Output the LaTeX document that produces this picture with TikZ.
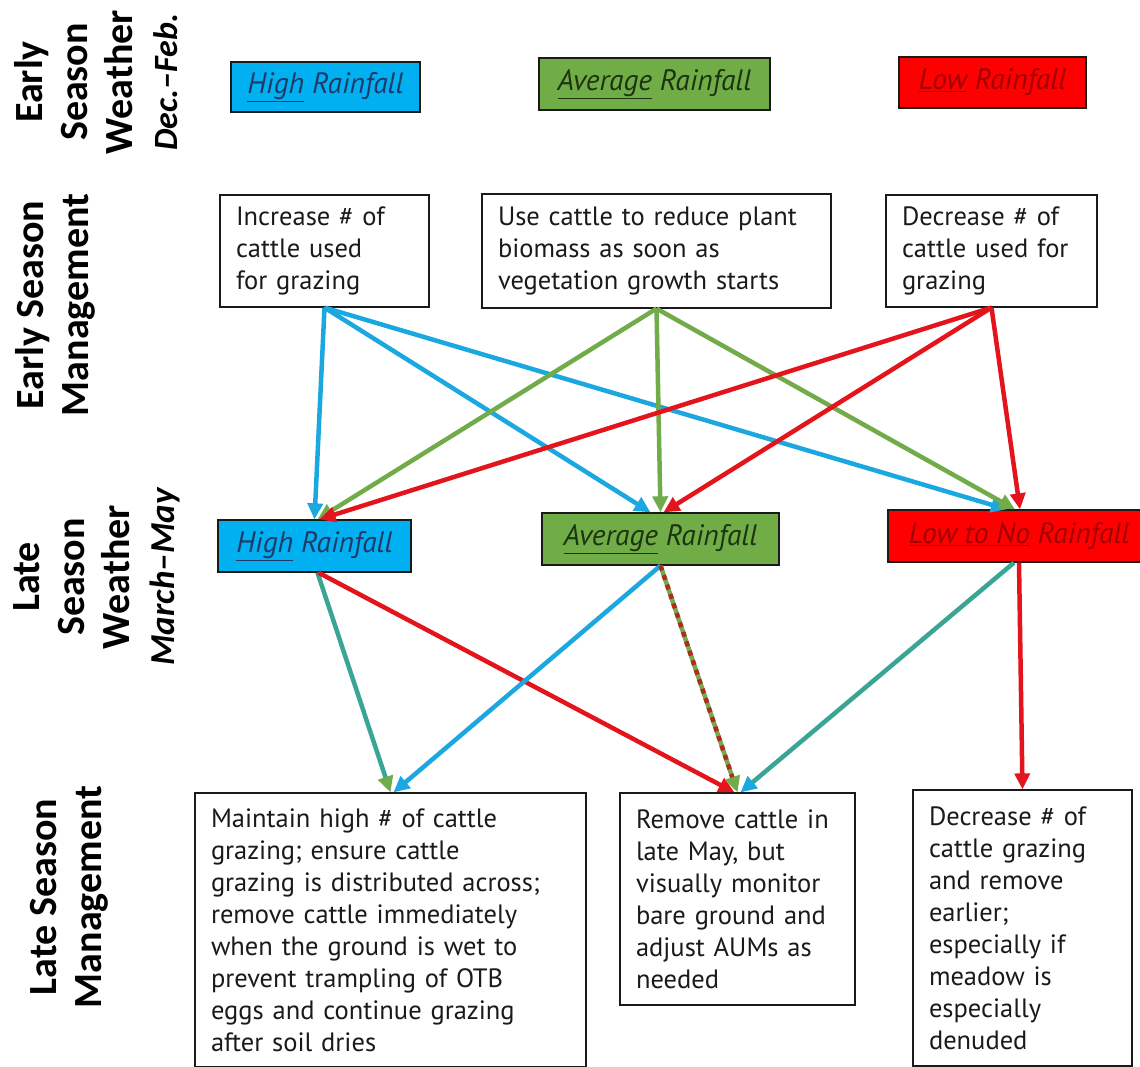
\documentclass[tikz,border=0pt]{standalone}
\usepackage{fontspec}
\setmainfont{PT Sans}
\newfontfamily\labfont{Carlito}
\usetikzlibrary{arrows.meta}
\definecolor{cBlue}{HTML}{00B0F0}
\definecolor{cGreen}{HTML}{70AD47}
\definecolor{cRed}{HTML}{FF0000}
\definecolor{aBlue}{HTML}{1BA7E0}
\definecolor{aGreen}{HTML}{72AC4A}
\definecolor{aRed}{HTML}{E3141B}
\definecolor{aTeal}{HTML}{3AA595}
\definecolor{aDash}{HTML}{B02A22}
\definecolor{tBlue}{HTML}{1F3A68}
\definecolor{tGreen}{HTML}{1E3312}
\definecolor{tRed}{HTML}{A00000}
\definecolor{ink}{HTML}{1A1A1A}
\tikzset{
  wbox/.style={draw=ink, line width=1.3pt, inner sep=0pt,
    font=\itshape\fontsize{29.5}{32}\selectfont},
  mbox/.style={draw=ink, line width=1.2pt, fill=white, text=ink, align=left,
    inner xsep=16pt, inner ysep=0pt, font=\fontsize{26.5}{32}\selectfont},
  lab/.style={rotate=90, align=center, text=black, inner sep=0pt,
    font=\labfont\bfseries\fontsize{40}{45}\selectfont},
  conn/.style={line width=4.5pt, -{Triangle[length=16pt,width=15pt]}},
  dashover/.style={line width=4.5pt, aDash, dash pattern=on 5pt off 5pt, shorten >=16pt},
}
\begin{document}
\begin{tikzpicture}[x=1pt,y=-1pt]
\useasboundingbox (0,0) rectangle (1140,1067);
\clip (0,0) rectangle (1140,1067);
\fill[white] (0,0) rectangle (1140,1067);

% left labels
\node[lab] (l1) at (96,82) {Early\\Season\\Weather\\{\itshape\fontsize{34}{45}\selectfont Dec.–Feb.}};
\node[lab] (l2) at (55,305) {Early Season\\Management};
\node[lab] (l3) at (97,577) {Late\\Season\\Weather\\{\itshape\fontsize{35}{45}\selectfont March–May}};
\node[lab] (l4) at (69,897) {Late Season\\Management};

% early season weather
\node[wbox, fill=cBlue, text=tBlue, minimum width=189pt, minimum height=50pt] (wH1) at (325.5,87) {\underline{High} Rainfall};
\node[wbox, fill=cGreen, text=tGreen, minimum width=231pt, minimum height=52pt] (wA1) at (654.5,84) {\underline{Average} Rainfall};
\node[wbox, fill=cRed, text=tRed, minimum width=187pt, minimum height=51pt] (wL1) at (992.5,82.5) {\underline{Low} Rainfall};

% early season management
\node[mbox, text width=177pt, minimum height=112pt] (e1) at (324.5,251) {Increase \# of\\cattle used\\for grazing};
\node[mbox, text width=317pt, minimum height=114pt] (e2) at (656.5,251) {Use cattle to reduce plant\\biomass as soon as\\vegetation growth starts};
\node[mbox, text width=179pt, minimum height=112pt] (e3) at (991.5,251) {Decrease \# of\\cattle used for\\grazing};

% late season weather
\node[wbox, fill=cBlue, text=tBlue, minimum width=193pt, minimum height=52pt] (wH2) at (314.5,546) {\underline{High} Rainfall};
\node[wbox, fill=cGreen, text=tGreen, minimum width=237pt, minimum height=52pt] (wA2) at (660.5,539) {\underline{Average} Rainfall};
\node[wbox, fill=cRed, text=tRed, minimum width=262pt, minimum height=52pt] (wL2) at (1019,536) {\underline{Low to No} Rainfall};

% late season management
\node[mbox, text width=359pt, minimum height=274pt] (m1) at (390.5,930) {Maintain high \# of cattle\\grazing; ensure cattle\\grazing is distributed across;\\remove cattle immediately\\when the ground is wet to\\prevent trampling of OTB\\eggs and continue grazing\\after soil dries};
\node[mbox, text width=203pt, minimum height=212pt] (m2) at (737.5,899) {Remove cattle in\\late May, but\\visually monitor\\bare ground and\\adjust AUMs as\\needed};
\node[mbox, text width=187pt, minimum height=276pt] (m3) at (1022.5,928) {Decrease \# of\\cattle grazing\\and remove\\earlier;\\especially if\\meadow is\\especially\\denuded};

% early management -> late weather
\draw[conn, aBlue] (e1.south) -- (wH2.north);
\draw[conn, aBlue] (e1.south) -- ([xshift=-10pt]wA2.north);
\draw[conn, aBlue] (e1.south) -- ([xshift=-12pt]wL2.north);
\draw[conn, aGreen] (e2.south) -- ([xshift=3pt]wH2.north);
\draw[conn, aGreen] (e2.south) -- (wA2.north);
\draw[conn, aGreen] (e2.south) -- ([xshift=-4pt]wL2.north);
\draw[conn, aRed] (e3.south) -- ([xshift=5pt]wH2.north);
\draw[conn, aRed] (e3.south) -- ([xshift=3pt]wA2.north);
\draw[conn, aRed] (e3.south) -- ([xshift=1pt]wL2.north);

% late weather -> late management
\draw[conn, aTeal, -{Triangle[length=16pt,width=15pt,color=aGreen]}] ([xshift=3pt]wH2.south) -- (m1.north);
\draw[conn, aRed] ([xshift=4pt]wH2.south) -- ([xshift=-3pt]m2.north);
\draw[conn, aBlue] (wA2.south) -- ([xshift=3pt]m1.north);
\draw[conn, aGreen] (wA2.south) -- (m2.north);
\draw[dashover] (wA2.south) -- (m2.north);
\draw[conn, aTeal, -{Triangle[length=16pt,width=15pt,color=aBlue]}] ([xshift=-5pt]wL2.south) -- ([xshift=3pt]m2.north);
\draw[conn, aRed] (wL2.south) -- (m3.north);
\end{tikzpicture}
\end{document}
